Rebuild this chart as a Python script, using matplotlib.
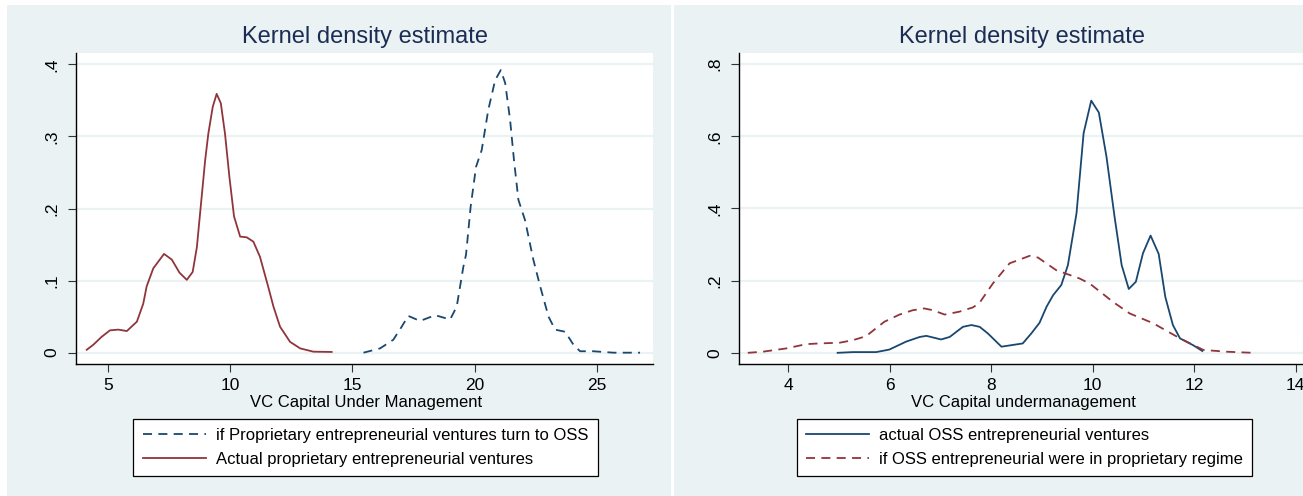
import numpy as np
import matplotlib
matplotlib.use('Agg')
import matplotlib.pyplot as plt
from matplotlib.patches import Rectangle

plt.rcParams['font.family'] = ['Liberation Sans', 'DejaVu Sans']

# left panel: actual proprietary ventures (solid, maroon)
prop_x = [4.14, 4.41, 4.75, 5.09, 5.43, 5.78, 6.19, 6.45, 6.59, 6.86, 7.30, 7.62, 7.93,
          8.23, 8.47, 8.64, 8.80, 8.98, 9.11, 9.29, 9.45, 9.62, 9.79, 9.97, 10.16, 10.41,
          10.68, 10.95, 11.22, 11.56, 11.77, 12.04, 12.45, 12.86, 13.40, 14.15]
prop_y = [0.004, 0.011, 0.022, 0.031, 0.032, 0.030, 0.043, 0.068, 0.092, 0.117, 0.137, 0.129, 0.111,
          0.101, 0.112, 0.146, 0.203, 0.267, 0.304, 0.341, 0.359, 0.346, 0.304, 0.244, 0.189, 0.161,
          0.160, 0.154, 0.133, 0.091, 0.064, 0.036, 0.015, 0.006, 0.0014, 0.001]

# left panel: if proprietary ventures turn to OSS (dashed, navy)
prop_oss_x = [15.45, 16.13, 16.67, 17.01, 17.28, 17.76, 18.38, 18.99, 19.26, 19.53, 19.64,
              19.83, 20.05, 20.28, 20.55, 20.83, 21.06, 21.24, 21.44, 21.60, 21.78, 22.05,
              22.39, 22.67, 23.01, 23.28, 23.69, 24.03, 24.30, 24.84, 25.66, 26.75]
prop_oss_y = [0.0, 0.006, 0.018, 0.036, 0.051, 0.044, 0.052, 0.046, 0.064, 0.119, 0.136,
              0.203, 0.258, 0.281, 0.337, 0.378, 0.392, 0.374, 0.323, 0.267, 0.212, 0.184,
              0.129, 0.092, 0.050, 0.032, 0.029, 0.011, 0.002, 0.002, 0.0, 0.0]

# right panel: actual OSS ventures (solid, navy)
oss_x = [4.97, 5.27, 5.73, 5.99, 6.32, 6.59, 6.72, 7.01, 7.18, 7.44, 7.61, 7.77, 7.93,
         8.20, 8.62, 8.79, 8.95, 9.09, 9.22, 9.38, 9.51, 9.68, 9.82, 9.97, 10.12, 10.27,
         10.43, 10.57, 10.71, 10.85, 10.99, 11.14, 11.30, 11.43, 11.58, 11.72, 11.98, 12.16]
oss_y = [0.0, 0.002, 0.002, 0.009, 0.031, 0.044, 0.047, 0.037, 0.044, 0.072, 0.077, 0.072, 0.054,
         0.017, 0.026, 0.054, 0.083, 0.128, 0.160, 0.188, 0.243, 0.387, 0.609, 0.699, 0.666, 0.544,
         0.377, 0.243, 0.177, 0.197, 0.276, 0.325, 0.274, 0.155, 0.077, 0.040, 0.021, 0.005]

# right panel: if OSS were in proprietary regime (dashed, maroon)
oss_prop_x = [3.20, 3.49, 3.95, 4.35, 4.61, 5.01, 5.27, 5.53, 5.89, 6.19, 6.45, 6.68, 6.85,
              7.08, 7.37, 7.64, 7.77, 8.03, 8.36, 8.76, 8.92, 9.28, 9.74, 9.94, 10.40, 10.73,
              11.19, 11.72, 12.18, 12.64, 13.16]
oss_prop_y = [0.0, 0.003, 0.012, 0.024, 0.026, 0.028, 0.035, 0.046, 0.086, 0.106, 0.118, 0.123, 0.118,
              0.106, 0.114, 0.126, 0.139, 0.192, 0.248, 0.269, 0.264, 0.229, 0.206, 0.192, 0.141, 0.109,
              0.082, 0.040, 0.008, 0.003, 0.0]

navy = '#1a476f'
maroon = '#90353b'
bg = '#eaf2f3'
W, H = 1303, 496

fig = plt.figure(figsize=(W / 100, H / 100), dpi=100)
fig.patch.set_facecolor('white')

# pixel coords (origin top-left) -> figure fraction
def fx(px):
    return px / W

def fy(py):
    return 1 - py / H

# panel backgrounds
fig.add_artist(Rectangle((fx(7), 0), fx(671) - fx(7), fy(5), transform=fig.transFigure,
                         facecolor=bg, edgecolor='none', zorder=-5))
fig.add_artist(Rectangle((fx(674), 0), 1 - fx(674), fy(5), transform=fig.transFigure,
                         facecolor=bg, edgecolor='none', zorder=-5))


def style_axes(ax, yticks, ylabels):
    ax.set_facecolor('white')
    for s in ['top', 'right']:
        ax.spines[s].set_visible(False)
    ax.spines['left'].set_color('black')
    ax.spines['bottom'].set_color('black')
    ax.spines['left'].set_linewidth(1.0)
    ax.spines['bottom'].set_linewidth(1.0)
    ax.set_yticks(yticks)
    ax.set_yticklabels(ylabels, rotation=90, va='center')
    ax.yaxis.grid(True, color=bg, linewidth=1.6)
    ax.set_axisbelow(True)
    ax.tick_params(axis='both', direction='out', length=6, width=0.8, color='#333333',
                   labelsize=12.5, pad=4)
    ax.tick_params(axis='y', pad=6)


# left axes
axL = fig.add_axes([fx(75.7), fy(364), fx(653) - fx(75.7), fy(53) - fy(364)])
axL.plot(prop_oss_x, prop_oss_y, color=navy, lw=1.3, ls=(0, (5, 3.5)),
         label='if Proprietary entrepreneurial ventures turn to OSS')
axL.plot(prop_x, prop_y, color=maroon, lw=1.3,
         label='Actual proprietary entrepreneurial ventures')
axL.set_xlim(3.69, 27.28)
axL.set_ylim(-0.0157, 0.4157)
axL.set_xticks([5, 10, 15, 20, 25])
style_axes(axL, [0, 0.1, 0.2, 0.3, 0.4], ['0', '.1', '.2', '.3', '.4'])

# right axes
axR = fig.add_axes([fx(738.7), fy(364), fx(1320) - fx(738.7), fy(53) - fy(364)])
axR.plot(oss_x, oss_y, color=navy, lw=1.3, label='actual OSS entrepreneurial ventures')
axR.plot(oss_prop_x, oss_prop_y, color=maroon, lw=1.3, ls=(0, (5, 3.5)),
         label='if OSS entrepreneurial were in proprietary regime')
axR.set_xlim(3.02, 14.48)
axR.set_ylim(-0.031, 0.831)
axR.set_xticks([4, 6, 8, 10, 12, 14])
style_axes(axR, [0, 0.2, 0.4, 0.6, 0.8], ['0', '.2', '.4', '.6', '.8'])

# titles and x labels
title_color = '#1c2d55'
fig.text(fx(364.5), fy(37), 'Kernel density estimate', ha='center', va='center',
         fontsize=17, color=title_color)
fig.text(fx(1022), fy(37), 'Kernel density estimate', ha='center', va='center',
         fontsize=17, color=title_color)
fig.text(fx(366), fy(402), 'VC Capital Under Management', ha='center', va='center',
         fontsize=12, color='black')
fig.text(fx(1023), fy(402), 'VC Capital undermanagement', ha='center', va='center',
         fontsize=12, color='black')

# legends
for ax, cx in [(axL, 365.5), (axR, 1024.5)]:
    leg = ax.legend(loc='center', bbox_to_anchor=(fx(cx), fy(447.5)),
                    bbox_transform=fig.transFigure, fontsize=12, frameon=True,
                    fancybox=False, framealpha=1, edgecolor='black', handlelength=3.8,
                    handletextpad=0.6, borderpad=0.55, labelspacing=0.55)
    leg.get_frame().set_linewidth(0.9)

fig.savefig('out.png', dpi=100)
